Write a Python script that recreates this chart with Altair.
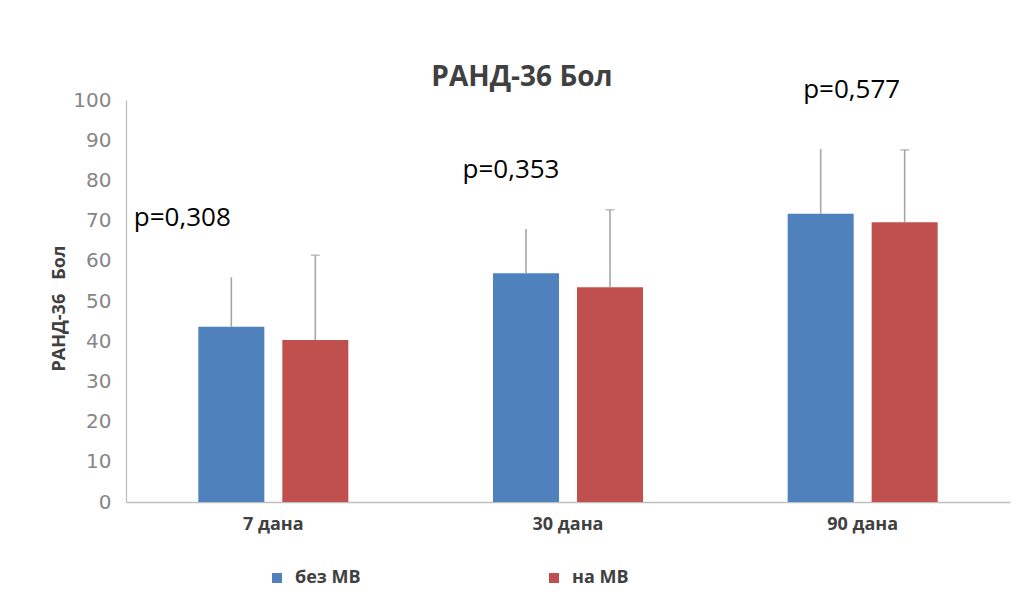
import altair as alt
import pandas as pd

categories = ["7 дана", "30 дана", "90 дана"]
groups = ["без МВ", "на МВ"]
bez_mean = [43.6, 56.9, 71.7]
bez_upper = [55.9, 67.9, 87.8]
na_mean = [40.3, 53.4, 69.6]
na_upper = [61.4, 72.7, 87.6]
p_labels = ["p=0,308", "p=0,353", "p=0,577"]
p_height = [70.7, 82.6, 102.6]

# layout (not data): horizontal shift of each p label from its category centre
p_shift = [-91, -57, -11]

rows = []
for i, c in enumerate(categories):
    rows.append({"category": c, "group": groups[0], "mean": bez_mean[i], "upper": bez_upper[i]})
    rows.append({"category": c, "group": groups[1], "mean": na_mean[i], "upper": na_upper[i]})
df = pd.DataFrame(rows)

FONT = "Open Sans"
GRAY_TXT = "#404040"
NB = "\u00a0"

x_enc = alt.X(
    "category:N", sort=categories,
    scale=alt.Scale(paddingInner=0, paddingOuter=0),
    axis=alt.Axis(title=None, labelAngle=0, ticks=False, labelFontWeight="bold",
                  labelFontSize=18, labelColor=GRAY_TXT, labelPadding=13,
                  domainColor="#bfbfbf", domainWidth=1.3, labelFont=FONT),
)
xoff_enc = alt.XOffset("group:N", sort=groups,
                       scale=alt.Scale(paddingInner=0.214, paddingOuter=0.861))
y_scale = alt.Scale(domain=[0, 100], nice=False)

base = alt.Chart(df).encode(x=x_enc, xOffset=xoff_enc)

bars = base.mark_bar().encode(
    y=alt.Y("mean:Q", scale=y_scale,
            axis=alt.Axis(values=list(range(0, 101, 10)), grid=False, ticks=False,
                          domainColor="#bfbfbf", domainWidth=1.3, labelColor="#868686",
                          labelFontSize=20, labelPadding=15, labelFont="DejaVu Sans",
                          title="РАНД-36" + NB * 3 + "Бол", titleFont=FONT, titleFontSize=18,
                          titleFontWeight="bold", titleColor=GRAY_TXT, titlePadding=4,
                          titleY=208)),
    color=alt.Color("group:N", sort=groups,
                    scale=alt.Scale(domain=groups, range=["#4F81BD", "#C0504D"]),
                    legend=alt.Legend(title=None, orient="none", legendX=142, legendY=469,
                                      direction="horizontal", symbolType="square",
                                      symbolSize=100, symbolStrokeWidth=0,
                                      labelFontSize=18, labelFontWeight="bold",
                                      labelColor=GRAY_TXT, labelFont=FONT,
                                      labelOffset=9, columnPadding=184)),
)

rules = base.mark_rule(color="#a6a6a6", strokeWidth=1.6).encode(
    y=alt.Y("mean:Q", scale=y_scale), y2="upper:Q"
)

caps = base.transform_filter(alt.datum.group == groups[1]).mark_tick(
    color="#a6a6a6", thickness=1.6, size=9
).encode(y=alt.Y("upper:Q", scale=y_scale))

layers = [bars, rules, caps]
for i in range(3):
    pdf = pd.DataFrame({"category": [categories[i]], "label": [p_labels[i]], "h": [p_height[i]]})
    layers.append(
        alt.Chart(pdf).mark_text(fontSize=26, font=FONT, color="#000000", dx=p_shift[i]).encode(
            x=alt.X("category:N", sort=categories),
            y=alt.Y("h:Q", scale=y_scale),
            text="label:N",
        )
    )

chart = alt.layer(*layers).properties(
    width=884, height=402,
    title=alt.TitleParams("РАНД-36 Бол", fontSize=28, fontWeight="bold", color=GRAY_TXT,
                          font=FONT, dx=-46, offset=-15, frame="group"),
    autosize=alt.AutoSizeParams(type="none"),
    padding={"left": 118, "top": 92, "right": 3, "bottom": 95},
).configure_view(stroke=None)

chart.save("out.html", embed_options={"renderer": "svg", "actions": False})
